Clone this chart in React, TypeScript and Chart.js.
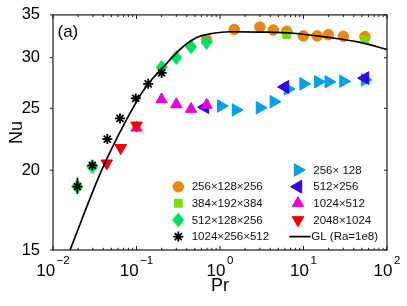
import React, { useEffect, useRef } from 'react';
import { Chart, registerables } from 'chart.js';
import { drawPoint } from 'chart.js/helpers';

Chart.register(...registerables);

// ---------- data ----------
const SERIES_NAMES = [
  '256×128×256',
  '384×192×384',
  '512×128×256',
  '1024×256×512',
  '256× 128',
  '512×256',
  '1024×512',
  '2048×1024',
  'GL (Ra=1e8)',
];

const PR_ORANGE = [0.69, 1.48, 3.0, 4.35, 6.3, 9.95, 14.6, 19.8, 30, 54.5];
const NU_ORANGE = [32.0, 33.2, 33.5, 33.15, 33.0, 32.45, 32.45, 32.6, 32.4, 32.35];

const PR_SQUARE = [6.3, 54.5];
const NU_SQUARE = [32.6, 32.0];

const PR_DIAMOND = [0.0196, 0.0296, 0.2, 0.3, 0.45, 0.69];
const NU_DIAMOND = [18.85, 20.25, 28.98, 30.0, 31.2, 31.7];

const PR_STAR = [0.0196, 0.0296, 0.0447, 0.0634, 0.098, 0.138, 0.2];
const NU_STAR = [18.85, 20.35, 22.37, 24.1, 25.9, 27.3, 28.4];

const PR_ERRBAR = [0.0196, 0.0196];
const NU_ERRBAR = [18.36, 19.47];

const PR_RIGHT = [1.03, 1.55, 3.0, 4.4, 6.5, 10, 15, 20, 30, 54.5];
const NU_RIGHT = [25.2, 24.85, 25.05, 25.6, 26.8, 27.3, 27.5, 27.5, 27.55, 27.7];

const PR_LEFT = [0.66, 6.0, 54.5];
const NU_LEFT = [25.1, 27.0, 27.87];

const PR_UP = [0.1, 0.2, 0.3, 0.45, 0.69];
const NU_UP = [23.3, 25.8, 25.35, 24.93, 25.3];

const PR_DOWN = [0.044, 0.0647, 0.1];
const NU_DOWN = [20.5, 21.67, 23.5];

const PR_GL = [0.016, 0.0383, 0.1, 0.138, 0.2, 0.332, 0.526, 0.825, 1.32, 3.0, 7.49, 18.97, 47.5, 100];
const NU_GL = [15, 20, 25.6, 27.3, 28.8, 30.9, 32.25, 32.76, 32.94, 32.9, 32.76, 32.3, 31.7, 30.9];

const X_MAJOR = [0.01, 0.1, 1, 10, 100];
const X_EXPONENTS = ['−2', '−1', '0', '1', '2'];
const Y_TICKS = [15, 20, 25, 30, 35];

// ---------- styles ----------
const FONT = '"Liberation Sans", Arial, Helvetica, sans-serif';
const C_ORANGE = '#E8880E';
const C_LIME = '#7ADC00';
const C_GREEN = '#00DD66';
const C_BLACK = '#000000';
const C_LBLUE = '#00A0E6';
const C_PURPLE = '#3200E4';
const C_MAGENTA = '#E600D2';
const C_RED = '#EE0000';

function zip(xs: number[], ys: number[]) {
  return xs.map((x, i) => ({ x, y: ys[i] }));
}

function makeDiamond(color: string, w: number, h: number) {
  const c = document.createElement('canvas');
  c.width = w;
  c.height = h;
  const g = c.getContext('2d')!;
  g.fillStyle = color;
  g.beginPath();
  g.moveTo(w / 2, 0);
  g.lineTo(w, h / 2);
  g.lineTo(w / 2, h);
  g.lineTo(0, h / 2);
  g.closePath();
  g.fill();
  return c;
}

export default function App() {
  const ref = useRef<HTMLCanvasElement>(null);

  useEffect(() => {
    const canvas = ref.current;
    if (!canvas) return;
    const diamond = makeDiamond(C_GREEN, 12, 15);

    const markerStyles: any[] = [
      { pointStyle: 'circle', radius: 5.3, rotation: 0, color: C_ORANGE, borderWidth: 1 },
      { pointStyle: 'rect', radius: 5.5, rotation: 0, color: C_LIME, borderWidth: 1 },
      { pointStyle: diamond, radius: 6, rotation: 0, color: C_GREEN, borderWidth: 0 },
      { pointStyle: 'star', radius: 5, rotation: 0, color: C_BLACK, borderWidth: 1.8 },
      { pointStyle: 'triangle', radius: 7.2, rotation: 90, color: C_LBLUE, borderWidth: 1 },
      { pointStyle: 'triangle', radius: 7.4, rotation: 270, color: C_PURPLE, borderWidth: 1 },
      { pointStyle: 'triangle', radius: 6.6, rotation: 0, color: C_MAGENTA, borderWidth: 1 },
      { pointStyle: 'triangle', radius: 6.7, rotation: 180, color: C_RED, borderWidth: 1 },
    ];

    const seriesData = [
      zip(PR_ORANGE, NU_ORANGE),
      zip(PR_SQUARE, NU_SQUARE),
      zip(PR_DIAMOND, NU_DIAMOND),
      zip(PR_STAR, NU_STAR),
      zip(PR_RIGHT, NU_RIGHT),
      zip(PR_LEFT, NU_LEFT),
      zip(PR_UP, NU_UP),
      zip(PR_DOWN, NU_DOWN),
    ];

    const datasets: any[] = seriesData.map((d, i) => {
      const m = markerStyles[i];
      return {
        label: SERIES_NAMES[i],
        data: d,
        showLine: false,
        pointStyle: m.pointStyle,
        pointRadius: m.radius,
        pointRotation: m.rotation,
        pointBackgroundColor: m.color,
        pointBorderColor: m.color,
        pointBorderWidth: m.borderWidth,
        order: 20 - i,
      };
    });
    // error bar on the first asterisk
    datasets.push({
      label: 'errbar',
      data: zip(PR_ERRBAR, NU_ERRBAR),
      showLine: true,
      pointRadius: 0,
      borderColor: C_BLACK,
      borderWidth: 1.6,
      order: 10,
    });
    datasets.push({
      label: SERIES_NAMES[8],
      data: zip(PR_GL, NU_GL),
      showLine: true,
      pointRadius: 0,
      borderColor: C_BLACK,
      borderWidth: 1.7,
      cubicInterpolationMode: 'monotone',
      order: 0,
    });

    const decor = {
      id: 'decor',
      afterDraw(chart: any) {
        const { ctx, chartArea: a, scales } = chart;
        const xs = scales.x;
        const ys = scales.y;
        ctx.save();
        ctx.strokeStyle = '#1c1c1c';
        ctx.lineWidth = 1.2;
        ctx.strokeRect(a.left, a.top, a.right - a.left, a.bottom - a.top);

        // x ticks (inward, bottom and top), major + minor
        ctx.lineWidth = 1;
        ctx.beginPath();
        for (let k = 0; k < X_MAJOR.length; k++) {
          const base = X_MAJOR[k];
          const px = xs.getPixelForValue(base);
          ctx.moveTo(px, a.bottom);
          ctx.lineTo(px, a.bottom - 4);
          ctx.moveTo(px, a.top);
          ctx.lineTo(px, a.top + 4);
          if (k < X_MAJOR.length - 1) {
            for (let m = 2; m <= 9; m++) {
              const mx = xs.getPixelForValue(base * m);
              ctx.moveTo(mx, a.bottom);
              ctx.lineTo(mx, a.bottom - 2.2);
              ctx.moveTo(mx, a.top);
              ctx.lineTo(mx, a.top + 2.2);
            }
          }
        }
        // y ticks: left outward, right inward
        for (const v of Y_TICKS) {
          const py = ys.getPixelForValue(v);
          ctx.moveTo(a.left, py);
          ctx.lineTo(a.left - 3, py);
          ctx.moveTo(a.right, py);
          ctx.lineTo(a.right - 3, py);
        }
        ctx.stroke();

        // x tick labels with superscript exponents
        ctx.fillStyle = '#000';
        ctx.textBaseline = 'alphabetic';
        ctx.textAlign = 'left';
        for (let k = 0; k < X_MAJOR.length; k++) {
          const px = xs.getPixelForValue(X_MAJOR[k]);
          ctx.font = `17px ${FONT}`;
          const w1 = ctx.measureText('10').width;
          ctx.font = `11.5px ${FONT}`;
          const w2 = ctx.measureText(X_EXPONENTS[k]).width;
          const gap = 1.5;
          const start = px - (w1 + gap + w2) / 2;
          ctx.font = `17px ${FONT}`;
          ctx.fillText('10', start, a.bottom + 25.8);
          ctx.font = `11.5px ${FONT}`;
          ctx.fillText(X_EXPONENTS[k], start + w1 + gap, a.bottom + 14);
        }

        // panel label
        ctx.font = `17px ${FONT}`;
        ctx.fillText('(a)', a.left + 4.5, a.top + 22);

        // legend
        const rowY = [170, 186.7, 203.3, 220, 236.6];
        const col1Marker = 178.3;
        const col1Text = 191.7;
        const col2Marker = 298;
        const col2Text = 313.3;
        ctx.font = `11.5px ${FONT}`;
        ctx.textBaseline = 'middle';
        const place = [
          [col1Marker, col1Text, rowY[1]],
          [col1Marker, col1Text, rowY[2]],
          [col1Marker, col1Text, rowY[3]],
          [col1Marker, col1Text, rowY[4]],
          [col2Marker, col2Text, rowY[0]],
          [col2Marker, col2Text, rowY[1]],
          [col2Marker, col2Text, rowY[2]],
          [col2Marker, col2Text, rowY[3]],
        ];
        for (let i = 0; i < markerStyles.length; i++) {
          const m = markerStyles[i];
          const [mx, tx, ty] = place[i];
          ctx.fillStyle = m.color;
          ctx.strokeStyle = m.color;
          ctx.lineWidth = m.borderWidth || 1;
          drawPoint(ctx, { pointStyle: m.pointStyle, radius: m.radius, rotation: m.rotation, borderWidth: m.borderWidth }, mx, ty);
          ctx.fillStyle = '#111';
          ctx.fillText(SERIES_NAMES[i], tx, ty + 0.5);
        }
        ctx.strokeStyle = '#000';
        ctx.lineWidth = 1.7;
        ctx.beginPath();
        ctx.moveTo(289.3, rowY[4]);
        ctx.lineTo(310.7, rowY[4]);
        ctx.stroke();
        ctx.fillStyle = '#111';
        ctx.fillText(SERIES_NAMES[8], col2Text - 2, rowY[4] + 0.5);

        ctx.restore();
      },
    };

    const chart = new Chart(canvas, {
      type: 'scatter',
      data: { datasets },
      options: {
        animation: false,
        responsive: false,
        devicePixelRatio: 1,
        layout: { padding: { left: 0, right: 20, top: 12, bottom: 0 } },
        plugins: { legend: { display: false }, tooltip: { enabled: false } },
        scales: {
          x: {
            type: 'logarithmic',
            min: 0.01,
            max: 100,
            grid: { display: false },
            border: { display: false },
            ticks: { display: false },
            title: {
              display: true,
              text: 'Pr',
              color: '#000',
              font: { family: FONT, size: 18 },
              padding: { top: 0, bottom: 9 },
            },
            afterFit: (s: any) => {
              s.height = 56;
            },
          },
          y: {
            type: 'logarithmic',
            min: 15,
            max: 35,
            afterBuildTicks: (s: any) => {
              s.ticks = Y_TICKS.map((v) => ({ value: v }));
            },
            grid: { display: false },
            border: { display: false },
            ticks: {
              color: '#000',
              padding: 5,
              font: { family: FONT, size: 16.5 },
              callback: (v: any) => String(v),
            },
            title: {
              display: true,
              text: 'Nu',
              color: '#000',
              font: { family: FONT, size: 18 },
              padding: { top: 6, bottom: 0 },
            },
            afterFit: (s: any) => {
              s.width = 53;
            },
          },
        },
      } as any,
      plugins: [decor],
    });

    return () => chart.destroy();
  }, []);

  return (
    <div style={{ position: 'fixed', left: 0, top: 0, width: 407, height: 306, background: '#fff' }}>
      <canvas ref={ref} width={407} height={306} />
    </div>
  );
}
